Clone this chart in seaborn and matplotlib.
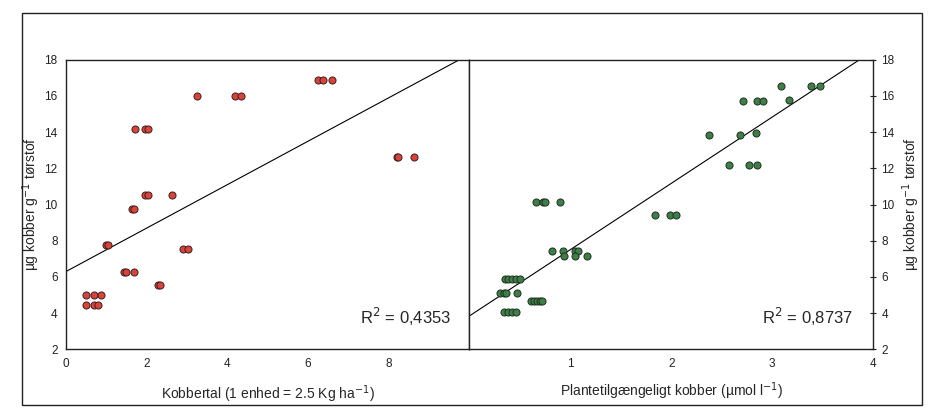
import numpy as np
import pandas as pd
import matplotlib
matplotlib.use("Agg")
import matplotlib.pyplot as plt
import seaborn as sns
from matplotlib.patches import Rectangle

# ------------------------------------------------------------
# data
# ------------------------------------------------------------
kobbertal = [0.49, 0.69, 0.88, 0.49, 0.69, 0.79, 1.00, 1.04, 1.43, 1.50,
             1.69, 1.63, 1.69, 1.72, 1.96, 2.03, 1.96, 2.04, 2.64, 2.28,
             2.32, 2.91, 3.02, 3.24, 4.19, 4.34, 6.24, 6.38, 6.59, 8.21,
             8.23, 8.62]
kobber_left = [5.0, 5.0, 5.0, 4.44, 4.44, 4.44, 7.77, 7.77, 6.27, 6.27,
               6.27, 9.78, 9.78, 14.16, 14.16, 14.16, 10.55, 10.55, 10.55, 5.53,
               5.53, 7.57, 7.57, 16.0, 16.0, 16.0, 16.9, 16.9, 16.9, 12.6,
               12.6, 12.6]

plantetilg = [0.34, 0.38, 0.42, 0.46,
              0.30, 0.34, 0.36, 0.47,
              0.35, 0.38, 0.42, 0.46, 0.50,
              0.61, 0.64, 0.67, 0.70, 0.72,
              0.66, 0.73, 0.75, 0.90,
              0.82, 0.93, 1.05, 1.08,
              0.94, 1.05, 1.16,
              1.84, 1.99, 2.05,
              2.37, 2.68, 2.84,
              2.57, 2.77, 2.85,
              2.71, 2.85, 2.91, 3.17,
              3.09, 3.39, 3.47]
kobber_right = [4.05, 4.05, 4.05, 4.05,
                5.13, 5.13, 5.13, 5.13,
                5.9, 5.9, 5.9, 5.9, 5.9,
                4.69, 4.69, 4.69, 4.69, 4.69,
                10.15, 10.15, 10.15, 10.15,
                7.42, 7.42, 7.42, 7.42,
                7.15, 7.15, 7.15,
                9.45, 9.45, 9.45,
                13.87, 13.87, 13.95,
                12.16, 12.16, 12.16,
                15.7, 15.7, 15.7, 15.78,
                16.55, 16.55, 16.55]

# trend lines (intercept, slope) and R2 labels as printed on the figure
trend_left = (6.3, 1.2)
trend_right = (3.85, 3.66)
r2_left = "0,4353"
r2_right = "0,8737"

left_ticks = [0, 2, 4, 6, 8]
right_ticks = [1, 2, 3, 4]
y_ticks = [2, 4, 6, 8, 10, 12, 14, 16, 18]

df_l = pd.DataFrame({"x": kobbertal, "y": kobber_left})
df_r = pd.DataFrame({"x": plantetilg, "y": kobber_right})

# ------------------------------------------------------------
# style
# ------------------------------------------------------------
sns.set_style("white")
plt.rcParams["font.family"] = ["Liberation Sans", "DejaVu Sans"]
narrow = ["Liberation Sans Narrow", "Liberation Sans", "DejaVu Sans"]

fig = plt.figure(figsize=(9.33, 4.12), dpi=100)
fig.subplots_adjust(left=0.0707, right=0.9357, top=0.855, bottom=0.152, wspace=0)
ax1 = fig.add_subplot(1, 2, 1)
ax2 = fig.add_subplot(1, 2, 2, sharey=ax1)

# outer frame of the scanned figure
fig.patches.append(Rectangle((22 / 933, 1 - 405 / 412), 900 / 933, 392 / 412,
                             transform=fig.transFigure, fill=False,
                             edgecolor="#222222", linewidth=1.0))

# --- left panel ---
sns.scatterplot(data=df_l, x="x", y="y", ax=ax1, color="#d9433a",
                edgecolor="#3a2020", linewidth=0.7, s=26, zorder=3)
xl = np.array([0, 10])
ax1.plot(xl, trend_left[0] + trend_left[1] * xl, color="black", lw=0.8)
ax1.set_xlim(0, 10)
ax1.set_ylim(2, 18)
ax1.set_xticks(left_ticks)
ax1.set_yticks(y_ticks)
ax1.set_xlabel("Kobbertal (1 enhed = 2.5 Kg ha$^{-1}$)", family=narrow,
               fontsize=10, labelpad=10)
ax1.set_ylabel("µg kobber g$^{-1}$ tørstof", family=narrow, fontsize=10, labelpad=2)
ax1.text(0.955, 0.075, f"R$^2$ = {r2_left}", transform=ax1.transAxes,
         ha="right", va="bottom", fontsize=12)

# --- right panel ---
sns.scatterplot(data=df_r, x="x", y="y", ax=ax2, color="#3e7f48",
                edgecolor="#1e3020", linewidth=0.7, s=26, zorder=3)
xr = np.array([0, 4])
ax2.plot(xr, trend_right[0] + trend_right[1] * xr, color="black", lw=0.8)
ax2.set_xlim(0, 4)
ax2.set_xticks(right_ticks)
ax2.yaxis.tick_right()
ax2.yaxis.set_label_position("right")
ax2.tick_params(axis="y", labelright=True, labelleft=False)
ax2.set_xlabel("Plantetilgængeligt kobber (µmol l$^{-1}$)", family=narrow,
               fontsize=10, labelpad=8)
ax2.set_ylabel("µg kobber g$^{-1}$ tørstof", family=narrow, fontsize=10, labelpad=4)
ax2.text(0.95, 0.075, f"R$^2$ = {r2_right}", transform=ax2.transAxes,
         ha="right", va="bottom", fontsize=12)

for ax in (ax1, ax2):
    for sp in ax.spines.values():
        sp.set_color("#222222")
        sp.set_linewidth(1.0)
    ax.tick_params(direction="inout", length=5, width=0.8, labelsize=8.5,
                   color="#222222", labelcolor="#222222")
    ax.grid(False)

plt.savefig("out.png", dpi=100)
